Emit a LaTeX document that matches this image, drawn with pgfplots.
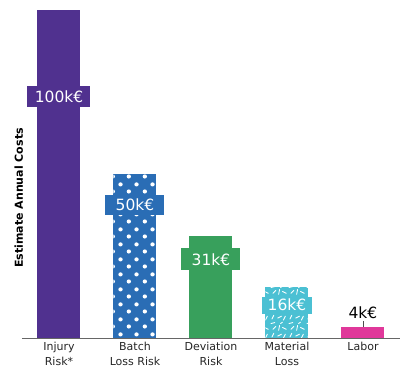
\documentclass[border=0pt]{standalone}
\usepackage{pgfplots}
\pgfplotsset{compat=1.18}
\usepackage{fontspec}
\setmainfont{DejaVu Sans}
\usetikzlibrary{patterns.meta}
\definecolor{cpurple}{HTML}{50318F}
\definecolor{cblue}{HTML}{2A6DB5}
\definecolor{cgreen}{HTML}{38A05C}
\definecolor{ccyan}{HTML}{4BC0D3}
\definecolor{cpink}{HTML}{E0389A}
\pgfdeclarepattern{
  name=bigdots, type=uncolored,
  bottom left={\pgfpoint{0pt}{0pt}}, top right={\pgfpoint{15.6pt}{15pt}},
  tile size={\pgfpoint{15.6pt}{15pt}},
  code={\pgfpathcircle{\pgfpoint{3.9pt}{3.75pt}}{2.2pt}\pgfpathcircle{\pgfpoint{11.7pt}{11.25pt}}{2.2pt}\pgfusepath{fill}}}
\pgfdeclarepattern{
  name=sticks, type=uncolored,
  bottom left={\pgfpoint{0pt}{0pt}}, top right={\pgfpoint{18pt}{18pt}},
  tile size={\pgfpoint{18pt}{18pt}},
  code={\pgfsetlinewidth{0.9pt}\pgfsetroundcap
    \pgfpathmoveto{\pgfpoint{2pt}{2pt}}\pgfpathlineto{\pgfpoint{4pt}{6pt}}
    \pgfpathmoveto{\pgfpoint{8pt}{3pt}}\pgfpathlineto{\pgfpoint{12pt}{5pt}}
    \pgfpathmoveto{\pgfpoint{14pt}{1pt}}\pgfpathlineto{\pgfpoint{16pt}{5pt}}
    \pgfpathmoveto{\pgfpoint{3pt}{10pt}}\pgfpathlineto{\pgfpoint{6pt}{13pt}}
    \pgfpathmoveto{\pgfpoint{9pt}{9pt}}\pgfpathlineto{\pgfpoint{10pt}{14pt}}
    \pgfpathmoveto{\pgfpoint{13pt}{12pt}}\pgfpathlineto{\pgfpoint{17pt}{10pt}}
    \pgfpathmoveto{\pgfpoint{1pt}{16pt}}\pgfpathlineto{\pgfpoint{5pt}{17pt}}
    \pgfpathmoveto{\pgfpoint{11pt}{16pt}}\pgfpathlineto{\pgfpoint{13pt}{17.5pt}}
    \pgfusepath{stroke}}}
\begin{document}
\begin{tikzpicture}
\path[use as bounding box] (-22pt,-37pt) rectangle (378pt,338pt);
\begin{axis}[
  scale only axis, width=378pt, height=328pt,
  xmin=-0.4868, xmax=4.487, ymin=0, ymax=100,
  axis x line*=bottom, axis y line=none,
  x axis line style={draw=black!60, line width=0.8pt},
  xtick={0,1,2,3,4},
  xticklabels={Injury\\Risk*, Batch\\Loss Risk, Deviation\\Risk, Material\\Loss, Labor},
  xticklabel style={align=center, font=\fontsize{11}{15}\selectfont, text=black!85, anchor=north, yshift=-1pt},
  major tick length=0pt,
  ybar, bar width=43pt, bar shift=0pt,
  clip=false,
]
\addplot[draw=none, fill=cpurple] coordinates {(0,100)};
\addplot[draw=none, fill=cblue, postaction={pattern={bigdots}, pattern color=white}] coordinates {(1,50)};
\addplot[draw=none, fill=cgreen] coordinates {(2,31)};
\addplot[draw=none, fill=ccyan, postaction={pattern={sticks}, pattern color=white}] coordinates {(3,15.5)};
\addplot[draw=none, fill=cpink] coordinates {(4,3.4)};
\node[fill=cpurple, text=white, minimum width=63pt, minimum height=21pt, inner sep=0pt, font=\fontsize{15.5}{17}\selectfont] at (axis cs:0,73.5) {100k€};
\node[fill=cblue, text=white, minimum width=59pt, minimum height=20pt, inner sep=0pt, font=\fontsize{15.5}{17}\selectfont] at (axis cs:1,40.5) {50k€};
\node[fill=cgreen, text=white, minimum width=59pt, minimum height=22pt, inner sep=0pt, font=\fontsize{15.5}{17}\selectfont] at (axis cs:2,24) {31k€};
\node[fill=ccyan, text=white, minimum width=50pt, minimum height=17pt, inner sep=0pt, font=\fontsize{15.5}{17}\selectfont] at (axis cs:3,10) {16k€};
\node[text=black, inner sep=0pt, font=\fontsize{15.5}{17}\selectfont] at (axis cs:4,7.8) {4k€};
\draw[black!70, line width=0.6pt] (axis cs:4,5.2) -- (axis cs:4,3.4);
\node[rotate=90, font=\bfseries\fontsize{11}{12}\selectfont] at (axis cs:-0.53,42.7) {Estimate Annual Costs};
\end{axis}
\end{tikzpicture}
\end{document}
